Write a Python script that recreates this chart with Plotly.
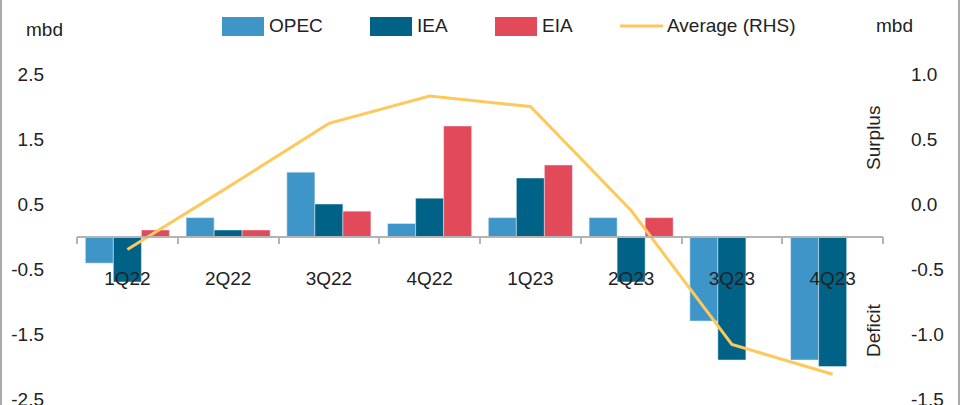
import plotly.graph_objects as go

# ---- data ----
quarters = ["1Q22", "2Q22", "3Q22", "4Q22", "1Q23", "2Q23", "3Q23", "4Q23"]
opec = [-0.41, 0.29, 0.99, 0.20, 0.29, 0.29, -1.30, -1.90]
iea = [-0.70, 0.10, 0.50, 0.59, 0.90, -0.70, -1.90, -2.00]
eia = [0.10, 0.10, 0.39, 1.70, 1.10, 0.29, None, None]
average_rhs = [-0.35, 0.13, 0.62, 0.83, 0.75, -0.05, -1.08, -1.31]
series_names = ["OPEC", "IEA", "EIA", "Average (RHS)"]

left_ticks = [-2.5, -1.5, -0.5, 0.5, 1.5, 2.5]
left_tick_labels = ["-2.5", "-1.5", "-0.5", "0.5", "1.5", "2.5"]
right_ticks = [-1.5, -1.0, -0.5, 0.0, 0.5, 1.0]
right_tick_labels = ["-1.5", "-1.0", "-0.5", "0.0", "0.5", "1.0"]

# ---- layout geometry (pixels) ----
W, H = 961, 405
ML, MR, MT, MB = 77, 78, 74, 6
PW, PH = W - ML - MR, H - MT - MB


def px_x(x):
    return (x - ML) / PW


def px_y(y):
    return (H - MB - y) / PH


FONT = "Liberation Sans, Arial, sans-serif"
TXT = "#222222"
C_OPEC = "#3E96C8"
C_IEA = "#006287"
C_EIA = "#E34A59"
C_AVG = "#FFC85A"
colors = [C_OPEC, C_IEA, C_EIA, C_AVG]

fig = go.Figure()
fig.add_trace(go.Bar(name=series_names[0], x=quarters, y=opec, marker_color=C_OPEC))
fig.add_trace(go.Bar(name=series_names[1], x=quarters, y=iea, marker_color=C_IEA))
fig.add_trace(go.Bar(name=series_names[2], x=quarters, y=eia, marker_color=C_EIA))
fig.add_trace(go.Scatter(name=series_names[3], x=quarters, y=average_rhs, yaxis="y2",
                         mode="lines", line=dict(color=C_AVG, width=3)))

# ---- custom legend (big swatches as in the reference) ----
legend_swatch_left = [222, 370, 495, 620]
legend_shapes = []
legend_annots = []
for i, name in enumerate(series_names):
    x0 = legend_swatch_left[i]
    if i < 3:
        legend_shapes.append(dict(type="rect", xref="paper", yref="paper",
                                  x0=px_x(x0), x1=px_x(x0 + 42), y0=px_y(36), y1=px_y(17),
                                  fillcolor=colors[i], line=dict(width=0)))
    else:
        legend_shapes.append(dict(type="line", xref="paper", yref="paper",
                                  x0=px_x(x0), x1=px_x(x0 + 43), y0=px_y(26), y1=px_y(26),
                                  line=dict(color=colors[i], width=3)))
    legend_annots.append(dict(text=name, x=px_x(x0 + 45), y=px_y(25), xref="paper",
                              yref="paper", showarrow=False, xanchor="left",
                              yanchor="middle"))

fig.update_layout(
    width=W, height=H,
    margin=dict(l=ML, r=MR, t=MT, b=MB, pad=0, autoexpand=False),
    paper_bgcolor="white", plot_bgcolor="white",
    font=dict(family=FONT, size=19, color=TXT),
    barmode="group", bargap=0.166, bargroupgap=0,
    showlegend=False,
    xaxis=dict(type="category", anchor="free", position=0.5, showline=True,
               linecolor="#B4B4B4", linewidth=1.5, ticks="outside", ticklen=7,
               tickcolor="#B4B4B4", tickwidth=1.5, tickson="boundaries",
               showgrid=False, zeroline=False, ticklabelstandoff=25, automargin=False,
               tickfont=dict(size=19, color=TXT)),
    yaxis=dict(range=[-2.5, 2.5], tickvals=left_ticks, ticktext=left_tick_labels,
               showgrid=False, zeroline=False, showline=False, ticks="",
               ticklabelstandoff=32, ticklabeloverflow="allow", automargin=False,
               tickfont=dict(size=19, color=TXT)),
    yaxis2=dict(range=[-1.5, 1.0], tickvals=right_ticks, ticktext=right_tick_labels,
                overlaying="y", side="right", showgrid=False, zeroline=False,
                showline=False, ticks="", ticklabelstandoff=27, ticklabeloverflow="allow",
                automargin=False, tickfont=dict(size=19, color=TXT)),
    annotations=[
        dict(text="mbd", x=px_x(44.5), y=px_y(30), xref="paper", yref="paper",
             showarrow=False, xanchor="center", yanchor="middle"),
        dict(text="mbd", x=px_x(894.5), y=px_y(25), xref="paper", yref="paper",
             showarrow=False, xanchor="center", yanchor="middle"),
        dict(text="Surplus", x=px_x(873), y=px_y(138), xref="paper", yref="paper",
             showarrow=False, textangle=-90, xanchor="center", yanchor="middle"),
        dict(text="Deficit", x=px_x(873), y=px_y(330), xref="paper", yref="paper",
             showarrow=False, textangle=-90, xanchor="center", yanchor="middle"),
    ] + legend_annots,
    shapes=[
        dict(type="line", xref="paper", yref="paper", x0=px_x(1), x1=px_x(1),
             y0=px_y(0), y1=px_y(H), line=dict(color="#AAAAAA", width=2)),
        dict(type="line", xref="paper", yref="paper", x0=px_x(959), x1=px_x(959),
             y0=px_y(0), y1=px_y(H), line=dict(color="#AAAAAA", width=2)),
    ] + legend_shapes,
)

fig.write_html("out.html")
